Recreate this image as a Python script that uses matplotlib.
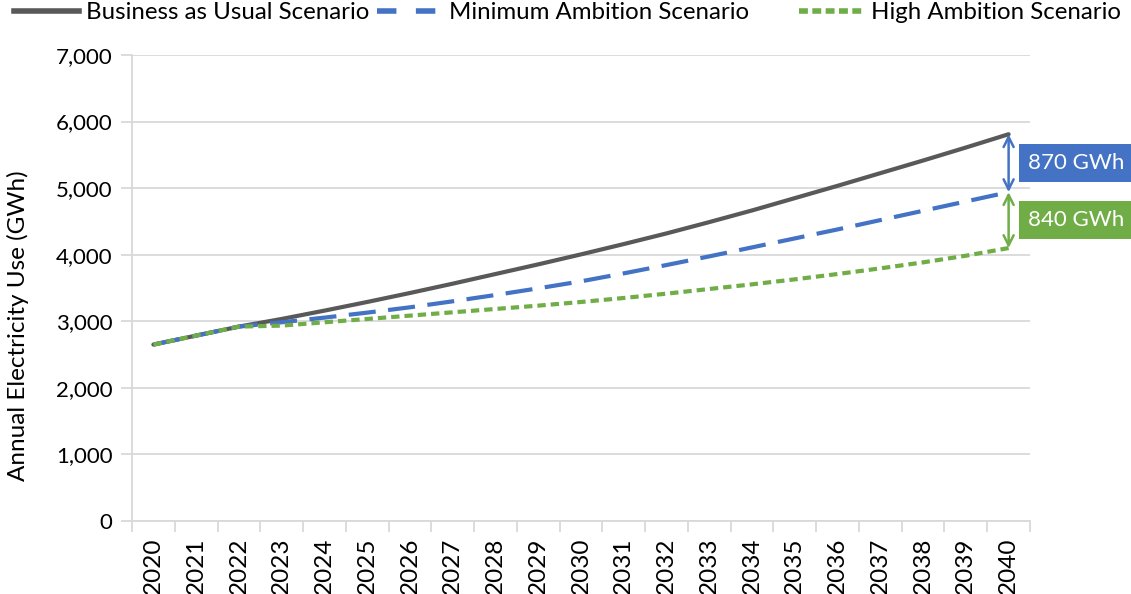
import matplotlib
import matplotlib.pyplot as plt
from matplotlib.lines import Line2D
from matplotlib.ticker import FixedLocator
matplotlib.use('agg')

# Annual electricity use (GWh) by scenario
years = list(range(2020, 2041))
bau = [2650, 2785, 2920, 3035, 3160, 3290, 3425, 3565, 3710, 3855, 4005,
       4160, 4320, 4490, 4665, 4850, 5035, 5225, 5415, 5610, 5810]
mas = [2650, 2785, 2920, 2985, 3055, 3130, 3210, 3300, 3395, 3495, 3600,
       3720, 3845, 3975, 4110, 4245, 4380, 4520, 4660, 4800, 4940]
has = [2650, 2785, 2920, 2935, 2985, 3035, 3085, 3135, 3185, 3235, 3290,
       3350, 3415, 3485, 3555, 3630, 3710, 3795, 3885, 3985, 4100]
gap_labels = ['870 GWh', '840 GWh']

plt.rcParams['font.family'] = ['Lato', 'DejaVu Sans']

GRAY = '#595959'
BLUE = '#4472C4'
GREEN = '#70AD47'
GRID = '#D9D9D9'

fig = plt.figure(figsize=(11.31, 5.94), dpi=100)
ax = fig.add_axes([132 / 1131, 1 - 521 / 594, 898 / 1131, 466 / 594])

x = list(range(len(years)))
ax.plot(x, bau, color=GRAY, lw=3, solid_capstyle='round', zorder=3)
ax.plot(x, mas, color=BLUE, lw=3, dashes=(6.5, 3), zorder=3)
ax.plot(x, has, color=GREEN, lw=3, dashes=(2, 1.2), zorder=3)

ax.set_xlim(-0.5, len(years) - 0.5)
ax.set_ylim(0, 7000)
ax.set_yticks(range(0, 7001, 1000))
ax.set_yticklabels([f'{v:,}' for v in range(0, 7001, 1000)], fontsize=16)
ax.set_xticks(x)
ax.set_xticklabels([str(y) for y in years], rotation=90, fontsize=17.5)
ax.xaxis.set_minor_locator(FixedLocator([i - 0.5 for i in range(len(years) + 1)]))
ax.tick_params(axis='x', which='major', length=0, pad=12)
ax.tick_params(axis='x', which='minor', length=8, color=GRID, width=1.3)
ax.tick_params(axis='y', length=8, color=GRID, width=1.3, pad=6)
ax.grid(axis='y', color=GRID, lw=1.3)
ax.set_axisbelow(True)
for s in ['top', 'right']:
    ax.spines[s].set_visible(False)
for s in ['left', 'bottom']:
    ax.spines[s].set_color(GRID)
    ax.spines[s].set_linewidth(1.3)
ax.set_ylabel('Annual Electricity Use (GWh)', fontsize=17.5, va='center')
ax.yaxis.set_label_coords(-0.127, 0.42)

# gap arrows at 2040
last = len(years) - 1
ax.annotate('', xy=(last, bau[-1]), xytext=(last, mas[-1]),
            arrowprops=dict(arrowstyle='<->', color=BLUE, lw=1.8,
                            mutation_scale=18, shrinkA=0, shrinkB=0))
ax.annotate('', xy=(last, mas[-1]), xytext=(last, has[-1]),
            arrowprops=dict(arrowstyle='<->', color=GREEN, lw=1.8,
                            mutation_scale=18, shrinkA=0, shrinkB=0))
for lab, top, bot, c in [(gap_labels[0], bau[-1], mas[-1], BLUE),
                         (gap_labels[1], mas[-1], has[-1], GREEN)]:
    ax.text(last + 1.57, (top + bot) / 2, lab, color='white', fontsize=16,
            ha='center', va='center', clip_on=False,
            bbox=dict(boxstyle='square,pad=0.4', fc=c, ec='none'))

# legend
h1 = Line2D([], [], color=GRAY, lw=4)
h2 = Line2D([], [], color=BLUE, lw=4, dashes=(3.5, 3.5))
h3 = Line2D([], [], color=GREEN, lw=4, dashes=(1.6, 0.8))
fig.legend([h1, h2], ['Business as Usual Scenario', 'Minimum Ambition Scenario'],
           loc='upper left', bbox_to_anchor=(0.004, 1.012), ncol=2, frameon=False,
           fontsize=17.3, handlelength=2.7, handletextpad=0.3, columnspacing=0.3,
           borderaxespad=0)
fig.legend([h3], ['High Ambition Scenario'], loc='upper right',
           bbox_to_anchor=(1.0, 1.012), frameon=False, fontsize=17.3,
           handlelength=2.7, handletextpad=0.3, borderaxespad=0)

plt.savefig('out.png', dpi=100)
